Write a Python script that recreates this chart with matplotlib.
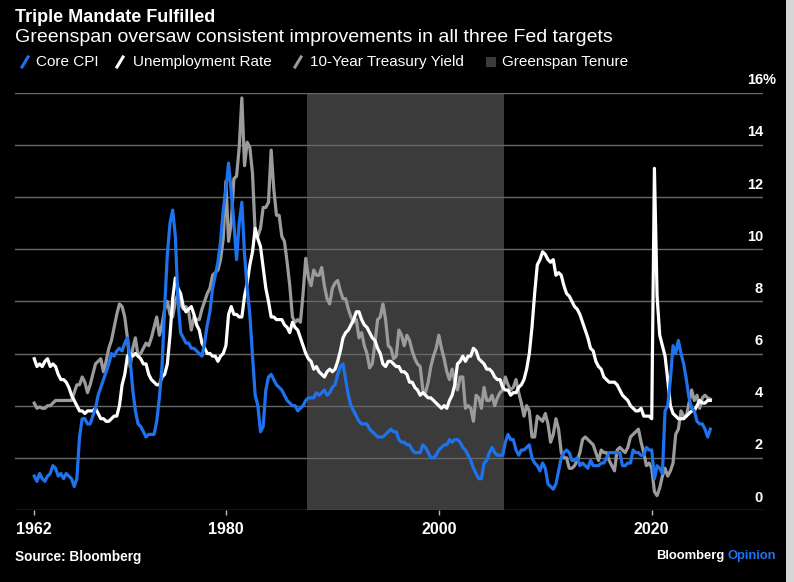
import numpy as np
import matplotlib
matplotlib.use("Agg")
import matplotlib.pyplot as plt
from matplotlib.lines import Line2D
from matplotlib.patches import Rectangle
import matplotlib.transforms as mtransforms

plt.rcParams['font.family'] = ['Liberation Sans', 'DejaVu Sans']

# quarterly readings, first value = Q1 1962
START_YEAR = 1962

core_cpi = [
    1.3, 1.1, 1.4, 1.2,   1.1, 1.3, 1.4, 1.7,   1.6, 1.3, 1.4, 1.2,   1.4, 1.3, 1.2, 0.9,
    1.2, 2.8, 3.5, 3.5,   3.3, 3.3, 3.6, 3.9,   4.4, 4.7, 5.0, 5.3,   5.6, 6.0, 5.9, 6.1,
    6.2, 6.1, 6.4, 6.6,   5.8, 4.6, 3.8, 3.3,   3.2, 3.0, 2.8, 2.9,   2.9, 2.9, 3.4, 4.3,
    5.5, 7.8, 9.8, 11.0,  11.5, 10.5, 8.0, 6.8, 6.6, 6.4, 6.4, 6.2,   6.2, 6.1, 6.0, 5.9,
    6.4, 7.1, 7.6, 8.5,   9.0, 9.5, 10.3, 11.5, 12.3, 13.3, 12.2, 11.0, 9.6, 11.0, 11.8, 9.8,
    8.5, 7.5, 5.9, 4.4,   4.0, 3.0, 3.2, 4.6,   5.1, 5.2, 5.0, 4.8,   4.7, 4.6, 4.4, 4.2,
    4.1, 4.0, 4.0, 3.8,   3.9, 4.0, 4.2, 4.3,   4.3, 4.3, 4.5, 4.4,   4.5, 4.6, 4.4, 4.5,
    4.7, 4.8, 5.2, 5.5,   5.6, 5.0, 4.4, 4.0,   3.8, 3.6, 3.4, 3.3,   3.3, 3.3, 3.1, 3.0,
    2.9, 2.8, 2.8, 2.8,   2.9, 3.0, 3.1, 3.0,   3.0, 2.7, 2.6, 2.6,   2.5, 2.5, 2.3, 2.2,
    2.2, 2.2, 2.5, 2.4,   2.2, 2.0, 2.0, 2.1,   2.3, 2.4, 2.5, 2.5,   2.7, 2.6, 2.7, 2.7,
    2.6, 2.4, 2.3, 2.1,   1.9, 1.6, 1.4, 1.2,   1.2, 1.8, 1.9, 2.2,   2.4, 2.2, 2.1, 2.1,
    2.1, 2.6, 2.9, 2.7,   2.7, 2.3, 2.1, 2.3,   2.3, 2.4, 2.5, 2.0,   1.8, 1.7, 1.5, 1.8,
    1.6, 1.0, 0.9, 0.8,   1.0, 1.5, 2.0, 2.2,   2.3, 2.2, 1.9, 1.9,   2.0, 1.7, 1.8, 1.7,
    1.6, 1.9, 1.7, 1.7,   1.7, 1.8, 1.8, 2.0,   2.2, 2.2, 2.2, 2.2,   2.2, 1.7, 1.7, 1.8,
    1.8, 2.3, 2.2, 2.2,   2.1, 2.1, 2.4, 2.3,   2.3, 1.2, 1.7, 1.6,   1.4, 3.8, 4.0, 5.0,
    6.3, 6.0, 6.5, 6.0,   5.6, 5.0, 4.3, 3.9,   3.8, 3.4, 3.3, 3.3,   3.1, 2.8, 3.1,
]

unemployment = [
    5.8, 5.5, 5.6, 5.5,   5.7, 5.8, 5.5, 5.6,   5.5, 5.2, 5.0, 5.0,   4.9, 4.7, 4.4, 4.2,
    4.0, 3.8, 3.8, 3.7,   3.8, 3.8, 3.8, 3.9,   3.7, 3.5, 3.5, 3.4,   3.4, 3.5, 3.6, 3.6,
    4.0, 4.8, 5.2, 5.9,   6.0, 5.9, 6.0, 5.9,   5.8, 5.6, 5.6, 5.2,   5.0, 4.9, 4.8, 4.8,
    5.1, 5.2, 5.6, 6.7,   8.1, 8.9, 8.5, 8.3,   7.8, 7.6, 7.7, 7.8,   7.5, 7.1, 6.9, 6.4,
    6.2, 6.0, 6.0, 5.9,   5.9, 5.7, 5.9, 6.0,   6.3, 7.5, 7.8, 7.5,   7.5, 7.4, 7.4, 8.2,
    8.7, 9.4, 9.9, 10.8,  10.4, 10.1, 9.3, 8.5, 8.0, 7.4, 7.4, 7.3,   7.3, 7.3, 7.1, 7.0,
    6.8, 7.2, 7.0, 6.9,   6.6, 6.3, 6.0, 5.8,   5.7, 5.4, 5.5, 5.3,   5.2, 5.1, 5.3, 5.4,
    5.3, 5.4, 5.7, 6.1,   6.6, 6.8, 6.9, 7.1,   7.3, 7.6, 7.6, 7.3,   7.1, 7.0, 6.8, 6.6,
    6.5, 6.2, 6.0, 5.6,   5.5, 5.7, 5.7, 5.6,   5.5, 5.5, 5.3, 5.3,   5.2, 4.9, 4.9, 4.7,
    4.6, 4.4, 4.5, 4.4,   4.3, 4.3, 4.2, 4.1,   4.0, 3.9, 4.0, 3.9,   4.2, 4.4, 4.8, 5.6,
    5.7, 5.9, 5.7, 5.9,   5.9, 6.2, 6.1, 5.8,   5.7, 5.6, 5.4, 5.4,   5.3, 5.1, 5.0, 5.0,
    4.7, 4.6, 4.6, 4.4,   4.5, 4.5, 4.7, 4.8,   5.0, 5.4, 6.0, 7.0,   8.3, 9.4, 9.6, 9.9,
    9.8, 9.6, 9.5, 9.6,   9.0, 9.1, 9.0, 8.6,   8.3, 8.2, 8.0, 7.8,   7.7, 7.5, 7.2, 6.9,
    6.6, 6.2, 6.1, 5.7,   5.5, 5.4, 5.1, 5.0,   4.9, 4.9, 4.9, 4.8,   4.6, 4.4, 4.3, 4.2,
    4.0, 3.9, 3.8, 3.8,   3.9, 3.6, 3.6, 3.6,   3.5, 13.1, 8.2, 6.7,  6.3, 5.9, 5.0, 4.0,
    3.7, 3.6, 3.5, 3.5,   3.5, 3.6, 3.7, 3.8,   3.8, 4.0, 4.2, 4.1,   4.1, 4.2, 4.2,
]

treasury_10y = [
    4.1, 3.9, 3.95, 3.9,  3.9, 4.0, 4.0, 4.1,   4.2, 4.2, 4.2, 4.2,   4.2, 4.2, 4.2, 4.5,
    4.8, 4.8, 5.1, 4.9,   4.5, 4.8, 5.2, 5.6,   5.7, 5.8, 5.3, 5.7,   6.2, 6.5, 7.0, 7.5,
    7.9, 7.8, 7.4, 6.6,   5.5, 6.2, 6.6, 5.9,   6.0, 6.2, 6.4, 6.3,   6.6, 7.0, 7.4, 6.7,
    7.1, 7.7, 8.0, 7.5,   7.4, 8.0, 8.3, 7.9,   7.7, 7.8, 7.6, 6.9,   7.4, 7.3, 7.3, 7.7,
    8.0, 8.3, 8.5, 9.0,   9.1, 9.2, 9.6, 10.4,  12.6, 10.3, 11.0, 12.7, 12.8, 13.9, 15.8, 13.2,
    14.1, 13.9, 12.9, 10.6, 10.5, 10.8, 11.6, 11.6, 11.8, 13.8, 12.3, 11.3, 11.3, 10.5, 10.3, 9.5,
    8.6, 7.4, 7.2, 7.3,   7.2, 8.3, 9.65, 8.9,  8.6, 9.2, 9.0, 9.0,   9.3, 8.6, 8.1, 7.9,
    8.5, 8.7, 8.8, 8.4,   8.1, 8.1, 7.7, 7.4,   7.2, 7.3, 6.6, 6.8,   6.3, 6.0, 5.45, 5.6,
    6.4, 7.3, 7.4, 7.9,   7.3, 6.3, 6.2, 5.8,   5.9, 6.9, 6.7, 6.3,   6.7, 6.5, 6.1, 5.8,
    5.6, 5.5, 4.6, 4.5,   4.9, 5.5, 5.9, 6.2,   6.7, 6.2, 5.8, 5.3,   5.0, 5.4, 4.9, 4.6,
    5.1, 5.1, 3.9, 4.0,   3.9, 3.4, 4.4, 4.3,   3.9, 4.7, 4.2, 4.2,   4.4, 4.0, 4.3, 4.5,
    4.6, 5.1, 4.8, 4.6,   4.7, 5.0, 4.5, 4.1,   3.6, 4.0, 3.8, 2.8,   2.8, 3.6, 3.5, 3.4,
    3.7, 3.3, 2.6, 2.9,   3.5, 3.1, 2.2, 2.0,   2.0, 1.6, 1.6, 1.7,   1.9, 2.2, 2.7, 2.8,
    2.7, 2.6, 2.5, 2.2,   1.9, 2.3, 2.2, 2.2,   1.9, 1.7, 1.5, 2.3,   2.4, 2.3, 2.2, 2.4,
    2.8, 2.9, 3.0, 3.1,   2.6, 2.2, 1.7, 1.8,   1.6, 0.7, 0.55, 0.85, 1.3, 1.6, 1.3, 1.5,
    1.8, 2.9, 3.1, 3.8,   3.6, 3.6, 4.1, 4.6,   4.2, 4.4, 3.9, 4.3,   4.4, 4.3, 4.25,
]

greenspan_start = 1987.6
greenspan_end = 2006.08

year_ticks = [1962, 1980, 2000, 2020]
y_ticks = [0, 2, 4, 6, 8, 10, 12, 14, 16]

BLUE = '#1f72ee'
GRAY = '#9b9b9b'
SHADE = '#3b3b3b'
GRID = '#686868'

W, H = 794, 582


def fx(px):
    return px / W


def fy(py):
    return 1 - py / H


fig = plt.figure(figsize=(W / 100, H / 100), dpi=100, facecolor='black')
ax = fig.add_axes([fx(15), fy(510), fx(763) - fx(15), fy(92.7) - fy(510)])
ax.set_facecolor('black')

t_cpi = START_YEAR + np.arange(len(core_cpi)) / 4
t_une = START_YEAR + np.arange(len(unemployment)) / 4
t_tsy = START_YEAR + np.arange(len(treasury_10y)) / 4

ax.axvspan(greenspan_start, greenspan_end, color=SHADE, lw=0, zorder=0)
for v in y_ticks:
    ax.axhline(v, color=GRID, lw=1, zorder=1)

ax.plot(t_tsy, treasury_10y, color=GRAY, lw=2.3, zorder=3, solid_joinstyle='round')
ax.plot(t_une, unemployment, color='white', lw=2.3, zorder=4, solid_joinstyle='round')
ax.plot(t_cpi, core_cpi, color=BLUE, lw=2.3, zorder=5, solid_joinstyle='round')

ax.set_xlim(1960.19, 2030.45)
ax.set_ylim(0, 16)
for s in ax.spines.values():
    s.set_visible(False)

ax.set_yticks([])
ax.set_xticks(year_ticks)
ax.set_xticklabels([str(y) for y in year_ticks])
ax.tick_params(axis='x', length=3.5, width=1, color='#bbbbbb', pad=5,
               labelsize=11.5, labelcolor='white')
for lab in ax.get_xticklabels():
    lab.set_fontweight('bold')

# y labels sit just above their gridline, right aligned at the axis end
trans = mtransforms.offset_copy(
    mtransforms.blended_transform_factory(ax.transAxes, ax.transData),
    fig=fig, x=0, y=9, units='points')
for v in y_ticks:
    ax.text(1.0, v, str(v), transform=trans, ha='right', va='center',
            color='white', fontsize=10.5, fontweight='bold')
ax.text(1.0, 16, '%', transform=trans, ha='left', va='center',
        color='white', fontsize=10.5, fontweight='bold')

# titles
fig.text(fx(15), fy(17), 'Triple Mandate Fulfilled', color='white',
         fontsize=13, fontweight='bold', va='center', ha='left')
fig.text(fx(15), fy(37), 'Greenspan oversaw consistent improvements in all three Fed targets',
         color='white', fontsize=14, va='center', ha='left')

# legend
leg_y = fy(62)
items = [(22, 36, BLUE, 'Core CPI'), (117, 133, 'white', 'Unemployment Rate'),
         (295, 310, GRAY, '10-Year Treasury Yield')]
for x0, xt, col, label in items:
    fig.add_artist(Line2D([fx(x0), fx(x0 + 6)], [fy(67), fy(57)], color=col,
                          lw=2.2, transform=fig.transFigure))
    fig.text(fx(xt), leg_y, label, color='white', fontsize=11,
             va='center', ha='left')
fig.add_artist(Rectangle((fx(486), fy(67)), fx(10), fy(57) - fy(67),
                         color=SHADE, transform=fig.transFigure, lw=0))
fig.text(fx(502), leg_y, 'Greenspan Tenure', color='white', fontsize=11,
         va='center', ha='left')

# footer
fig.text(fx(15), fy(557), 'Source: Bloomberg', color='white', fontsize=9.8,
         fontweight='bold', va='center', ha='left')
op = fig.text(fx(776), fy(556), 'Opinion', color=BLUE, fontsize=9.4,
              fontweight='bold', va='center', ha='right')
fig.canvas.draw()
bb = op.get_window_extent()
fig.text(bb.x0 / W - 0.004, fy(556), 'Bloomberg', color='white', fontsize=9.4,
         fontweight='bold', va='center', ha='right')

# light strip along the right edge
fig.add_artist(Rectangle((fx(786), 0), 1 - fx(786), 1, color='#d6d6d6',
                         transform=fig.transFigure, lw=0))

fig.savefig('out.png', dpi=100, facecolor='black')
